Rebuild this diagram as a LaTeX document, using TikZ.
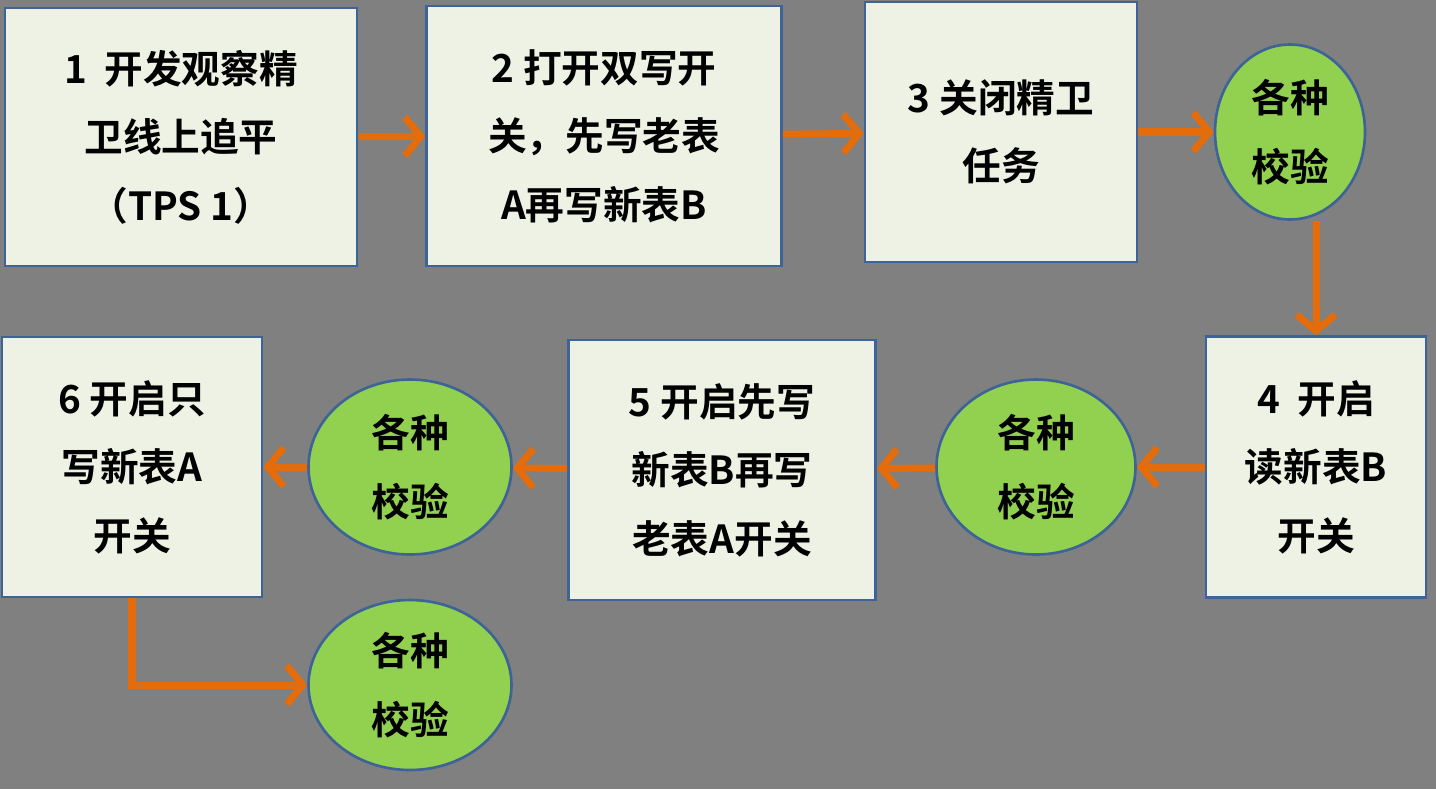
\documentclass[tikz,border=0pt]{standalone}
\usepackage{fontspec}
\setmainfont{Noto Sans CJK SC Bold}
\usetikzlibrary{shapes.geometric,arrows.meta}
\definecolor{boxfill}{HTML}{EEF2E4}
\definecolor{boxline}{HTML}{3E6397}
\definecolor{checkfill}{HTML}{92D050}
\definecolor{flow}{HTML}{E46C0A}
\begin{document}
\begin{tikzpicture}[x=0.02cm,y=-0.02cm]
  \tikzstyle{stepbox}=[draw=boxline,line width=1.5pt,fill=boxfill,inner sep=0pt,align=center,font=\fontsize{22}{39}\selectfont]
  \tikzstyle{check}=[ellipse,draw=boxline,line width=1.5pt,fill=checkfill,inner sep=0pt,align=center,font=\fontsize{22}{39}\selectfont]
  \tikzstyle{flowline}=[draw=flow,line width=4pt,-{Straight Barb[length=9pt,width=22pt,line width=4pt]}]
  \fill[gray!98!black,fill={rgb,255:red,128;green,128;blue,128}] (0,0) rectangle (1436,789);
  \node[stepbox,minimum width=352*0.02cm,minimum height=258*0.02cm] (s1) at (181,137) {1\ \ 开发观察精\\卫线上追平\\（TPS 1）};
  \node[stepbox,minimum width=355*0.02cm,minimum height=260*0.02cm] (s2) at (604,136) {2 打开双写开\\关，先写老表\\A再写新表B};
  \node[stepbox,minimum width=272*0.02cm,minimum height=260*0.02cm] (s3) at (1001,132) {3 关闭精卫\\任务};
  \node[check,minimum width=150*0.02cm,minimum height=175*0.02cm] (c1) at (1290,132) {各种\\校验};
  \node[stepbox,minimum width=220*0.02cm,minimum height=261*0.02cm] (s4) at (1316,467) {4\ \ 开启\\读新表B\\开关};
  \node[check,minimum width=199*0.02cm,minimum height=175*0.02cm] (c2) at (1036,467) {各种\\校验};
  \node[stepbox,minimum width=307*0.02cm,minimum height=260*0.02cm] (s5) at (722,470) {5 开启先写\\新表B再写\\老表A开关};
  \node[check,minimum width=203*0.02cm,minimum height=175*0.02cm] (c3) at (410,467) {各种\\校验};
  \node[stepbox,minimum width=260*0.02cm,minimum height=260*0.02cm] (s6) at (132,467) {6 开启只\\写新表A\\开关};
  \node[check,minimum width=203*0.02cm,minimum height=170*0.02cm] (c4) at (410,685) {各种\\校验};
  \draw[flowline] (s1) -- (s2);
  \draw[flowline] (s2) -- (s3);
  \draw[flowline] (s3) -- (c1);
  \draw[flowline] (c1.south -| s4.north) -- (s4.north);
  \draw[flowline] (s4) -- (c2);
  \draw[flowline] (c2) -- (s5);
  \draw[flowline] (s5) -- (c3);
  \draw[flowline] (c3) -- (s6);
  \draw[flowline] (s6.south) |- (c4.west);
\end{tikzpicture}
\end{document}
